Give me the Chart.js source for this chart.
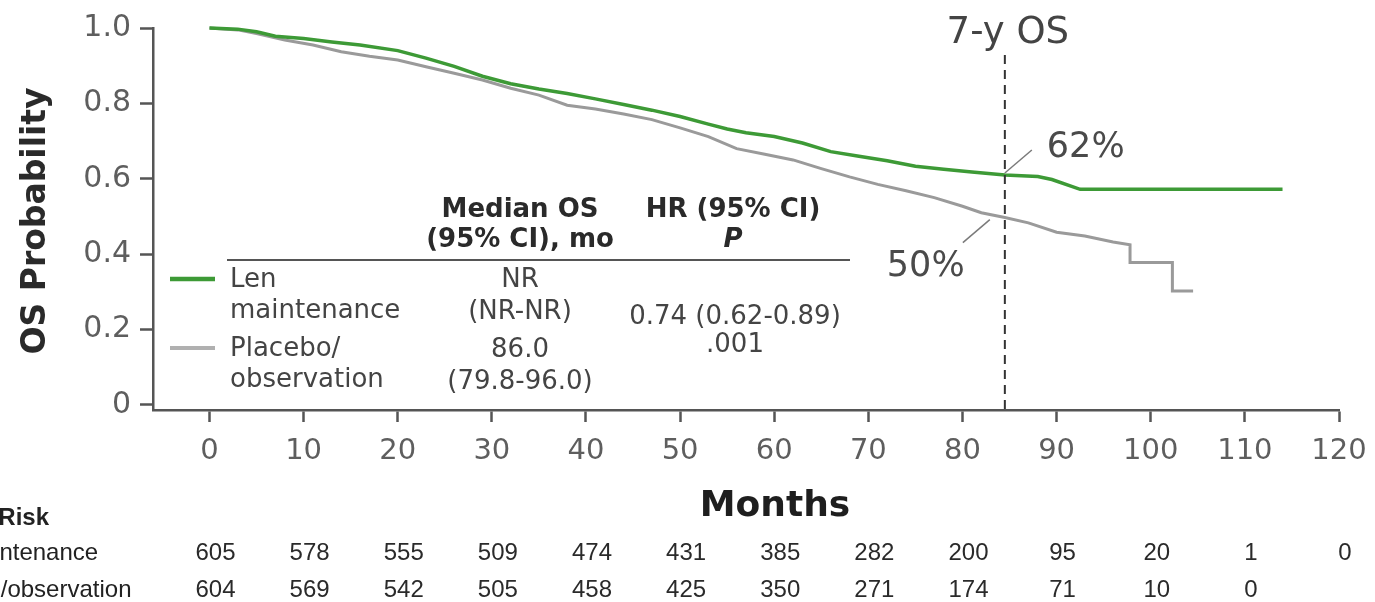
<!DOCTYPE html>
<html>
<head>
<meta charset="utf-8">
<script src="https://cdn.jsdelivr.net/npm/chart.js@4.4.1/dist/chart.umd.min.js"></script>
<style>
  html, body { margin: 0; padding: 0; background: #fff; overflow: hidden; }
  #wrap { width: 1375px; height: 602px; }
</style>
</head>
<body>
<div id="wrap"><canvas id="km" width="1375" height="602"></canvas></div>
<script>
/* KM curves */
const lenMonths = [0, 3, 5, 7, 10, 13, 16, 20, 23, 26, 29, 32, 35, 38, 41, 44, 47, 50, 53, 55, 57, 60, 63, 66, 69, 72, 75, 78, 81, 84.5, 88, 89.5, 92.5, 114];
const lenOS     = [1.0, 0.997, 0.99, 0.978, 0.972, 0.963, 0.955, 0.94, 0.92, 0.898, 0.872, 0.852, 0.838, 0.826, 0.812, 0.797, 0.782, 0.765, 0.745, 0.732, 0.722, 0.712, 0.695, 0.672, 0.66, 0.648, 0.633, 0.625, 0.618, 0.61, 0.606, 0.598, 0.572, 0.572];

const plcMonths = [0, 3, 5, 8, 11, 14, 17, 20, 23, 26, 29, 32, 35, 38, 41, 44, 47, 50, 53, 56, 59, 62, 65, 68, 71, 74, 77, 80, 82, 84.5, 87, 90, 93, 96, 97.8, 97.8, 102.3, 102.3, 104.5];
const plcOS     = [1.0, 0.995, 0.985, 0.968, 0.955, 0.937, 0.925, 0.915, 0.897, 0.88, 0.862, 0.84, 0.822, 0.795, 0.785, 0.772, 0.757, 0.735, 0.712, 0.68, 0.665, 0.65, 0.627, 0.605, 0.585, 0.568, 0.55, 0.527, 0.51, 0.497, 0.483, 0.458, 0.448, 0.432, 0.425, 0.378, 0.378, 0.302, 0.302];

const xTicks = [0, 10, 20, 30, 40, 50, 60, 70, 80, 90, 100, 110, 120];
const yTicks = [0, 0.2, 0.4, 0.6, 0.8, 1.0];

/* number at risk */
const riskLen = [605, 578, 555, 509, 474, 431, 385, 282, 200, 95, 20, 1, 0];
const riskPlc = [604, 569, 542, 505, 458, 425, 350, 271, 174, 71, 10, 0];

const landmarkMonth = 84.5;
const landmarkLen = 0.61;
const landmarkPlc = 0.497;

const GREEN = '#3d9a36';
const GREY = '#9a9a9a';
const AXIS = '#555555';
const TICK = '#5e5e5e';
const FONT = "'DejaVu Sans', sans-serif";
const RFONT = "'Liberation Sans', Arial, sans-serif";

function txt(ctx, s, x, y, font, color, align) {
  ctx.font = font;
  ctx.fillStyle = color;
  ctx.textAlign = align || 'left';
  ctx.textBaseline = 'middle';
  ctx.fillText(s, x, y);
}

function seg(ctx, x1, y1, x2, y2, color, w, dash) {
  ctx.save();
  ctx.strokeStyle = color;
  ctx.lineWidth = w;
  ctx.setLineDash(dash || []);
  ctx.beginPath();
  ctx.moveTo(x1, y1);
  ctx.lineTo(x2, y2);
  ctx.stroke();
  ctx.restore();
}

const overlay = {
  id: 'overlay',
  afterDatasetsDraw(chart) {
    const ctx = chart.ctx;
    const xs = chart.scales.x, ys = chart.scales.y;
    const area = chart.chartArea;
    ctx.save();

    // 7-year landmark
    const lx = xs.getPixelForValue(landmarkMonth);
    seg(ctx, lx, 55, lx, area.bottom, '#333', 2, [9, 6]);
    txt(ctx, '7-y OS', lx + 3, 33, '37px ' + FONT, '#444', 'center');

    const gy = ys.getPixelForValue(landmarkLen);
    seg(ctx, lx, gy - 2, lx + 27, gy - 25, '#7a7a7a', 1.5);
    txt(ctx, '62%', lx + 42, 148, '35px ' + FONT, '#4a4a4a', 'left');

    const py = ys.getPixelForValue(landmarkPlc);
    seg(ctx, lx - 15, py + 2, lx - 42, py + 25, '#7a7a7a', 1.5);
    txt(ctx, '50%', lx - 118, 267, '35px ' + FONT, '#4a4a4a', 'left');

    // inset table
    const head = 'bold 26px ' + FONT;
    txt(ctx, 'Median OS', 520, 210, head, '#2a2a2a', 'center');
    txt(ctx, '(95% CI), mo', 520, 240, head, '#2a2a2a', 'center');
    txt(ctx, 'HR (95% CI)', 733, 210, head, '#2a2a2a', 'center');
    txt(ctx, 'P', 733, 240, 'italic ' + head, '#2a2a2a', 'center');
    seg(ctx, 227, 260, 850, 260, '#555', 2);

    seg(ctx, 170, 279, 215, 279, GREEN, 4.5);
    seg(ctx, 170, 348, 215, 348, '#b0b0b0', 4);
    const body = '26px ' + FONT;
    txt(ctx, 'Len', 230, 280, body, '#444', 'left');
    txt(ctx, 'maintenance', 230, 311, body, '#444', 'left');
    txt(ctx, 'Placebo/', 230, 349, body, '#444', 'left');
    txt(ctx, 'observation', 230, 380, body, '#444', 'left');
    txt(ctx, 'NR', 520, 280, body, '#444', 'center');
    txt(ctx, '(NR-NR)', 520, 312, body, '#444', 'center');
    txt(ctx, '86.0', 520, 350, body, '#444', 'center');
    txt(ctx, '(79.8-96.0)', 520, 382, body, '#444', 'center');
    txt(ctx, '0.74 (0.62-0.89)', 735, 317, body, '#444', 'center');
    txt(ctx, '.001', 735, 345, body, '#444', 'center');

    // axis titles
    txt(ctx, 'Months', 775, 507, 'bold 36px ' + FONT, '#1e1e1e', 'center');
    ctx.save();
    ctx.translate(36, 221);
    ctx.rotate(-Math.PI / 2);
    txt(ctx, 'OS Probability', 0, 0, 'bold 33px ' + FONT, '#2a2a2a', 'center');
    ctx.restore();

    // number at risk
    const rf = '24px ' + RFONT;
    txt(ctx, 'No. at Risk', -75, 518, 'bold 24px ' + RFONT, '#222', 'left');
    txt(ctx, 'Len maintenance', -86, 553, rf, '#222', 'left');
    txt(ctx, 'Placebo/observation', -86, 590, rf, '#222', 'left');
    riskLen.forEach((n, i) => txt(ctx, String(n), xs.getPixelForValue(xTicks[i]) + 6, 553, rf, '#2a2a2a', 'center'));
    riskPlc.forEach((n, i) => txt(ctx, String(n), xs.getPixelForValue(xTicks[i]) + 6, 590, rf, '#2a2a2a', 'center'));

    ctx.restore();
  }
};

const tickGrid = { drawOnChartArea: false, drawTicks: true, tickColor: AXIS, tickWidth: 2.5 };

new Chart(document.getElementById('km'), {
  type: 'line',
  data: {
    datasets: [
      { label: 'Len maintenance', data: lenMonths.map((m, i) => ({ x: m, y: lenOS[i] })),
        borderColor: GREEN, borderWidth: 3.5, pointRadius: 0, tension: 0, clip: 6 },
      { label: 'Placebo/observation', data: plcMonths.map((m, i) => ({ x: m, y: plcOS[i] })),
        borderColor: GREY, borderWidth: 3, pointRadius: 0, tension: 0, clip: 6 },
    ],
  },
  options: {
    responsive: false,
    animation: false,
    layout: { padding: { top: 28, right: 36, left: 0, bottom: 0 } },
    plugins: { legend: { display: false }, tooltip: { enabled: false } },
    scales: {
      x: {
        type: 'linear', min: -6, max: 120,
        afterBuildTicks: s => { s.ticks = xTicks.map(v => ({ value: v })); },
        afterFit: s => { s.height = 192; s.paddingRight = 20; s.paddingLeft = 0; },
        border: { color: AXIS, width: 2.5 },
        grid: { ...tickGrid, tickLength: 12 },
        ticks: { color: TICK, font: { family: FONT, size: 29 }, padding: 12, maxRotation: 0, autoSkip: false },
      },
      y: {
        min: -0.0135, max: 1,
        afterBuildTicks: s => { s.ticks = yTicks.map(v => ({ value: v })); },
        afterFit: s => { s.width = 153; },
        border: { color: AXIS, width: 2.5 },
        grid: { ...tickGrid, tickLength: 13 },
        ticks: { color: TICK, font: { family: FONT, size: 30 }, padding: 9,
                 callback: v => v === 0 ? '0' : v.toFixed(1) },
      },
    },
  },
  plugins: [overlay],
});
</script>
</body>
</html>
